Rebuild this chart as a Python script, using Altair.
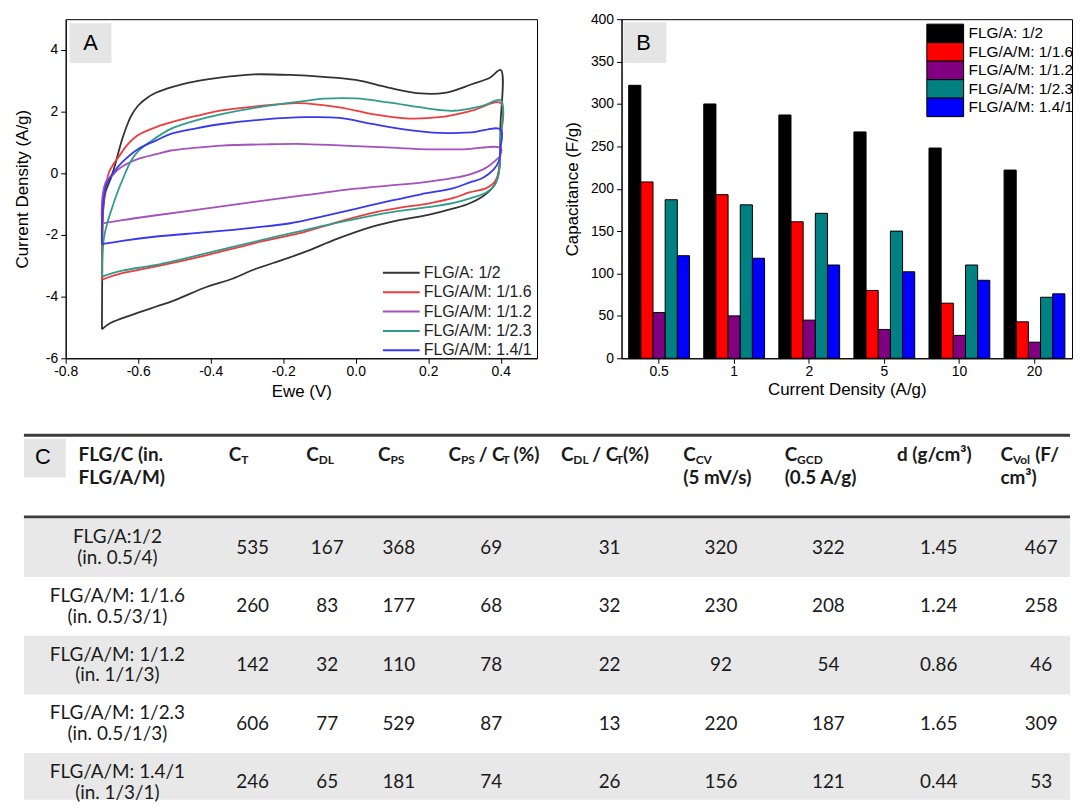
import altair as alt
import pandas as pd

# ---------------- data ----------------
SERIES = ["FLG/A: 1/2", "FLG/A/M: 1/1.6", "FLG/A/M: 1/1.2", "FLG/A/M: 1/2.3", "FLG/A/M: 1.4/1"]
A_COLORS = ["#333333", "#ee3b3b", "#a450bd", "#2f9c8c", "#3838f0"]
B_COLORS = ["#000000", "#ff0000", "#800080", "#008080", "#0000ff"]

# Panel A: CV loops (potential in V, current density in A/g), forward sweep then reverse sweep
CV_FLGA_E = [-0.700, -0.699, -0.697, -0.690, -0.675, -0.663, -0.654, -0.644, -0.632, -0.620, -0.600,
             -0.575, -0.550, -0.500, -0.460, -0.400, -0.340, -0.280, -0.180, -0.090, 0.000, 0.090,
             0.180, 0.250, 0.320, 0.370, 0.400,
             0.399, 0.397, 0.390, 0.375, 0.350, 0.313, 0.270, 0.200, 0.120, 0.046, -0.050, -0.140,
             -0.200, -0.280, -0.340, -0.410, -0.500, -0.550, -0.600, -0.644, -0.680, -0.700]
CV_FLGA_J = [-5.06, -3.00, -1.30, -0.60, -0.15, 0.30, 0.70, 1.11, 1.52, 1.85, 2.20,
             2.45, 2.62, 2.82, 2.94, 3.06, 3.15, 3.21, 3.19, 3.13, 3.03, 2.78,
             2.59, 2.62, 2.89, 3.10, 3.35,
             1.50, 0.30, -0.20, -0.50, -0.75, -0.98, -1.14, -1.35, -1.52, -1.73, -2.12, -2.55,
             -2.80, -3.12, -3.42, -3.68, -4.12, -4.32, -4.52, -4.70, -4.88, -5.06]

CV_116_E = [-0.700, -0.699, -0.696, -0.690, -0.680, -0.668, -0.653, -0.630, -0.600, -0.550, -0.510,
            -0.440, -0.370, -0.250, -0.160, -0.045, 0.046, 0.138, 0.230, 0.320, 0.400,
            0.399, 0.396, 0.385, 0.360, 0.313, 0.270, 0.200, 0.120, 0.046, -0.050, -0.140,
            -0.280, -0.410, -0.550, -0.644, -0.700]
CV_116_J = [-3.45, -2.00, -1.00, -0.45, 0.05, 0.30, 0.55, 0.92, 1.24, 1.50, 1.65,
            1.86, 2.04, 2.20, 2.28, 2.14, 1.92, 1.78, 1.82, 2.03, 2.28,
            1.00, 0.20, -0.25, -0.48, -0.62, -0.80, -0.98, -1.12, -1.28, -1.58, -1.90,
            -2.27, -2.65, -3.02, -3.24, -3.45]

CV_112_E = [-0.700, -0.700, -0.695, -0.688, -0.670, -0.653, -0.600, -0.550, -0.510, -0.440, -0.370,
            -0.250, -0.140, 0.000, 0.100, 0.200, 0.300, 0.400,
            0.397, 0.386, 0.365, 0.350, 0.313, 0.270, 0.180, 0.090, 0.000, -0.140, -0.280,
            -0.410, -0.550, -0.644, -0.700]
CV_112_J = [-1.63, -0.95, -0.50, -0.25, -0.06, 0.15, 0.47, 0.62, 0.74, 0.83, 0.90,
            0.94, 0.95, 0.88, 0.83, 0.78, 0.78, 0.82,
            0.55, 0.42, 0.22, 0.12, -0.04, -0.15, -0.30, -0.40, -0.50, -0.71, -0.93,
            -1.14, -1.36, -1.52, -1.63]

CV_123_E = [-0.700, -0.698, -0.693, -0.685, -0.670, -0.655, -0.640, -0.620, -0.600, -0.570, -0.510,
            -0.440, -0.370, -0.250, -0.140, -0.090, 0.000, 0.090, 0.200, 0.270, 0.350, 0.400,
            0.399, 0.396, 0.385, 0.360, 0.313, 0.270, 0.200, 0.120, 0.046, -0.050, -0.140,
            -0.280, -0.410, -0.550, -0.644, -0.700]
CV_123_J = [-3.35, -2.50, -2.00, -1.60, -1.05, -0.55, -0.12, 0.40, 0.72, 1.00, 1.44,
            1.72, 1.92, 2.18, 2.35, 2.42, 2.43, 2.30, 2.10, 2.03, 2.19, 2.37,
            1.00, 0.10, -0.35, -0.62, -0.82, -0.96, -1.10, -1.22, -1.37, -1.60, -1.84,
            -2.22, -2.59, -2.97, -3.16, -3.35]

CV_141_E = [-0.700, -0.700, -0.696, -0.690, -0.680, -0.670, -0.644, -0.600, -0.550, -0.510, -0.440,
            -0.370, -0.250, -0.140, -0.045, 0.046, 0.138, 0.230, 0.320, 0.400,
            0.399, 0.395, 0.380, 0.350, 0.313, 0.270, 0.180, 0.100, 0.000, -0.100, -0.180,
            -0.280, -0.410, -0.550, -0.644, -0.700]
CV_141_J = [-2.30, -1.60, -0.90, -0.45, -0.18, 0.00, 0.36, 0.79, 1.07, 1.28, 1.46,
            1.60, 1.75, 1.82, 1.80, 1.60, 1.42, 1.31, 1.33, 1.42,
            0.80, 0.40, 0.12, -0.15, -0.30, -0.48, -0.68, -0.88, -1.15, -1.42, -1.62,
            -1.76, -1.91, -2.05, -2.19, -2.30]

# Panel B: specific capacitance (F/g) vs current density (A/g)
DENSITY = ["0.5", "1", "2", "5", "10", "20"]
CAP_FLGA = [322, 300, 287, 267, 248, 222]
CAP_116 = [208, 193, 161, 80, 65, 43]
CAP_112 = [54, 50, 45, 34, 27, 19]
CAP_123 = [187, 181, 171, 150, 110, 72]
CAP_141 = [121, 118, 110, 102, 92, 76]

# Panel C: table
ROW_LINE1 = ["FLG/A:1/2", "FLG/A/M: 1/1.6", "FLG/A/M: 1/1.2", "FLG/A/M: 1/2.3", "FLG/A/M: 1.4/1"]
ROW_LINE2 = ["(in. 0.5/4)", "(in. 0.5/3/1)", "(in. 1/1/3)", "(in. 0.5/1/3)", "(in. 1/3/1)"]
C_T = [535, 260, 142, 606, 246]
C_DL = [167, 83, 32, 77, 65]
C_PS = [368, 177, 110, 529, 181]
PS_OVER_T = [69, 68, 78, 87, 74]
DL_OVER_T = [31, 32, 22, 13, 26]
C_CV = [320, 230, 92, 220, 156]
C_GCD = [322, 208, 54, 187, 121]
DENS = ["1.45", "1.24", "0.86", "1.65", "0.44"]
C_VOL = [467, 258, 46, 309, 53]
# header cells: list of lines, each a list of (text, is_subscript)
HEADERS = [
    [[("FLG/C (in.", False)], [("FLG/A/M)", False)]],
    [[("C", False), ("T", True)]],
    [[("C", False), ("DL", True)]],
    [[("C", False), ("PS", True)]],
    [[("C", False), ("PS", True), (" / C", False), ("T", True), (" (%)", False)]],
    [[("C", False), ("DL", True), (" / C", False), ("T", True), ("(%)", False)]],
    [[("C", False), ("CV", True)], [("(5 mV/s)", False)]],
    [[("C", False), ("GCD", True)], [("(0.5 A/g)", False)]],
    [[("d (g/cm³)", False)]],
    [[("C", False), ("Vol", True), (" (F/", False)], [("cm³)", False)]],
]

# ---------------- layout (pixels) ----------------
A_W, A_H = 474, 341
B_W, B_H = 453, 341
GAP_AB = 25            # gap between A's frame and B's axis title
GAP_TOP_TABLE = 33     # gap between the x-axis titles and the table block
T_X0 = 64              # page x of the table block origin (aligned with A plot origin)
T_W, T_H = 1010, 368
COL_CX = [116, 252, 327, 399, 492, 611, 723, 831, 942, 1045]   # column centres (page x)
COL_HX = [77, 228, 306, 378, 449, 562, 685, 787, 900, 1004]    # header left edges (page x)
TABLE_L = 22 - T_X0
HDR_Y = [21, 44]
RULE_Y = [1.5, 83.5]
ROW_TOP0, ROW_H = 85, 59
NAME_LH = 21
HF, SF, DF = 19, 12, 19

LEG_A = dict(x0=319, x1=356, xt=360, y0=255, y1=333)
LEG_B = dict(x0=307, x1=344, xt=349, y0=5, y1=98)

AX_FONT = "Liberation Sans, Arial, sans-serif"
T_FONT = "Lato, Open Sans, sans-serif"


def axis(**kw):
    base = dict(domainColor="black", tickColor="black", labelColor="black", titleColor="black",
                labelFont=AX_FONT, titleFont=AX_FONT, labelFontSize=14, titleFontSize=17,
                titleFontWeight="normal", tickSize=5, grid=False, labelFlush=False)
    base.update(kw)
    return alt.Axis(**base)


leg_df = pd.DataFrame({"series": SERIES, "i": list(range(len(SERIES)))})
leg_df["i2"] = leg_df["i"] + 1
leg_df["ic"] = leg_df["i"] + 0.5

# ---------------- panel A ----------------
recs = []
for name, es, js in zip(SERIES, [CV_FLGA_E, CV_116_E, CV_112_E, CV_123_E, CV_141_E],
                        [CV_FLGA_J, CV_116_J, CV_112_J, CV_123_J, CV_141_J]):
    for k, (e, j) in enumerate(zip(es, js)):
        recs.append({"series": name, "E": e, "J": j, "k": k})
cv_df = pd.DataFrame(recs)

colorA = alt.Color("series:N", scale=alt.Scale(domain=SERIES, range=A_COLORS), legend=None)
lines = alt.Chart(cv_df).mark_line(strokeWidth=1.8, interpolate="catmull-rom").encode(
    x=alt.X("E:Q", scale=alt.Scale(domain=[-0.8, 0.5], nice=False, zero=False),
            axis=axis(values=[-0.8, -0.6, -0.4, -0.2, 0.0, 0.2, 0.4], title="Ewe (V)",
                      labelExpr="replace(format(datum.value, '.1f'), '−', '-')",
                      labelPadding=1, titlePadding=5)),
    y=alt.Y("J:Q", scale=alt.Scale(domain=[-6, 5], nice=False, zero=False),
            axis=axis(values=[-6, -4, -2, 0, 2, 4], title="Current Density (A/g)",
                      labelExpr="replace(format(datum.value, 'd'), '−', '-')",
                      labelPadding=3, titlePadding=14)),
    color=colorA,
    order="k:Q",
)
legA_scale = alt.Scale(domain=[0, 4], range=[LEG_A["y0"], LEG_A["y1"]], nice=False, zero=False)
legA_line = alt.Chart(leg_df).mark_rule(strokeWidth=2).encode(
    x=alt.value(LEG_A["x0"]), x2=alt.value(LEG_A["x1"]),
    y=alt.Y("i:Q", scale=legA_scale, axis=None), color=colorA)
legA_text = alt.Chart(leg_df).mark_text(font=AX_FONT, fontSize=16, align="left", baseline="middle",
                                        color="#222222").encode(
    x=alt.value(LEG_A["xt"]), y=alt.Y("i:Q", scale=legA_scale, axis=None), text="series:N")

lab_df = pd.DataFrame({"t": ["A"]})
boxA = alt.Chart(lab_df).mark_rect(color="#e5e5e5").encode(
    x=alt.value(4), x2=alt.value(46), y=alt.value(4), y2=alt.value(44))
txtA = alt.Chart(lab_df).mark_text(font=AX_FONT, fontSize=22, color="black").encode(
    x=alt.value(25), y=alt.value(24), text="t:N")
chartA = alt.layer(boxA, txtA, lines, legA_line, legA_text).resolve_scale(y="independent").properties(
    width=A_W, height=A_H, view=alt.ViewBackground(stroke="black", strokeWidth=1))

# ---------------- panel B ----------------
brecs = []
for name, vals in zip(SERIES, [CAP_FLGA, CAP_116, CAP_112, CAP_123, CAP_141]):
    for d, v in zip(DENSITY, vals):
        brecs.append({"series": name, "density": d, "cap": v})
bar_df = pd.DataFrame(brecs)

colorB = alt.Color("series:N", scale=alt.Scale(domain=SERIES, range=B_COLORS), legend=None)
bars = alt.Chart(bar_df).mark_bar(stroke="black", strokeWidth=1).encode(
    x=alt.X("density:N", sort=DENSITY, scale=alt.Scale(paddingInner=0.19, paddingOuter=0.095),
            axis=axis(title="Current Density (A/g)", labelAngle=0, labelPadding=1, titlePadding=3)),
    xOffset=alt.XOffset("series:N", sort=SERIES),
    y=alt.Y("cap:Q", scale=alt.Scale(domain=[0, 400], nice=False),
            axis=axis(values=list(range(0, 401, 50)), title="Capacitance (F/g)",
                      labelPadding=3, titlePadding=9)),
    color=colorB,
)
legB_scale = alt.Scale(domain=[0, 5], range=[LEG_B["y0"], LEG_B["y1"]], nice=False, zero=False)
legB_box = alt.Chart(leg_df).mark_rect(stroke="black", strokeWidth=1).encode(
    x=alt.value(LEG_B["x0"]), x2=alt.value(LEG_B["x1"]),
    y=alt.Y("i:Q", scale=legB_scale, axis=None), y2="i2:Q", color=colorB)
legB_text = alt.Chart(leg_df).mark_text(font=AX_FONT, fontSize=15.5, align="left", baseline="middle",
                                        color="black").encode(
    x=alt.value(LEG_B["xt"]), y=alt.Y("ic:Q", scale=legB_scale, axis=None), text="series:N")

lab_b = pd.DataFrame({"t": ["B"]})
boxB = alt.Chart(lab_b).mark_rect(color="#e5e5e5").encode(
    x=alt.value(2), x2=alt.value(45), y=alt.value(3), y2=alt.value(44))
txtB = alt.Chart(lab_b).mark_text(font=AX_FONT, fontSize=22, color="black").encode(
    x=alt.value(22), y=alt.value(24), text="t:N")
chartB = alt.layer(boxB, txtB, bars, legB_box, legB_text).resolve_scale(y="independent").properties(
    width=B_W, height=B_H, view=alt.ViewBackground(stroke="black", strokeWidth=1))

# ---------------- panel C (table) ----------------
LATO_BOLD_W = {'C': .66, 'T': .58, 'D': .74, 'L': .50, 'P': .60, 'S': .53, 'V': .69, 'G': .73,
               'F': .55, 'A': .70, 'M': .88, 'o': .57, 'l': .26, 'd': .58, 'g': .52, 'c': .48,
               'm': .86, 'i': .26, 'n': .58, 's': .44, 'v': .53, 'e': .54, ' ': .22, '/': .38,
               '(': .31, ')': .31, '%': .80, '.': .24, ':': .26, '³': .38}


def tw(s, size):
    return sum(LATO_BOLD_W.get(ch, 0.58) for ch in s) * size


sx = alt.Scale(domain=[0, T_W], range=[0, T_W], nice=False, zero=False)
sy = alt.Scale(domain=[0, T_H], range=[0, T_H], nice=False, zero=False)


def XE(f):
    return alt.X(f, type="quantitative", scale=sx, axis=None)


def YE(f):
    return alt.Y(f, type="quantitative", scale=sy, axis=None)


bg_df = pd.DataFrame([{"x0": TABLE_L, "x1": T_W, "y0": ROW_TOP0 + ROW_H * r,
                       "y1": min(ROW_TOP0 + ROW_H * (r + 1), T_H)} for r in range(0, 5, 2)])
bg = alt.Chart(bg_df).mark_rect(color="#e8e8e8").encode(
    x=XE("x0"), x2="x1:Q", y=YE("y0"), y2="y1:Q")

rule_df = pd.DataFrame({"y": RULE_Y, "x0": [TABLE_L] * 2, "x1": [T_W] * 2})
rules = alt.Chart(rule_df).mark_rule(color="#3c3c3c", strokeWidth=3).encode(
    x=XE("x0"), x2="x1:Q", y=YE("y"))

lab_c = pd.DataFrame({"t": ["C"], "x0": [TABLE_L], "x1": [64 - T_X0], "y0": [5], "y1": [44],
                      "cx": [41 - T_X0], "cy": [23]})
boxC = alt.Chart(lab_c).mark_rect(color="#e5e5e5").encode(
    x=XE("x0"), x2="x1:Q", y=YE("y0"), y2="y1:Q")
txtC = alt.Chart(lab_c).mark_text(font=AX_FONT, fontSize=22, color="black").encode(
    x=XE("cx"), y=YE("cy"), text="t:N")

hrecs = []
for j, cell in enumerate(HEADERS):
    for li, segs in enumerate(cell):
        cur = COL_HX[j] - T_X0
        for text, sub in segs:
            size = SF if sub else HF
            lead = len(text) - len(text.lstrip(" "))
            cur += tw(" " * lead, size)
            body = text.lstrip(" ")
            hrecs.append({"t": body, "x": cur, "y": HDR_Y[li] + (5 if sub else 0), "sub": sub})
            cur += tw(body, size)
h_df = pd.DataFrame(hrecs)
hmain = alt.Chart(h_df[~h_df["sub"]]).mark_text(
    font=T_FONT, fontSize=HF, fontWeight="bold", align="left", baseline="middle", color="#1a1a1a"
).encode(x=XE("x"), y=YE("y"), text="t:N")
hsub = alt.Chart(h_df[h_df["sub"]]).mark_text(
    font=T_FONT, fontSize=SF, fontWeight="bold", align="left", baseline="middle", color="#1a1a1a"
).encode(x=XE("x"), y=YE("y"), text="t:N")

name_df = pd.DataFrame([{"t": ROW_LINE1[r] + "\n" + ROW_LINE2[r], "x": COL_CX[0] - T_X0,
                         "y": ROW_TOP0 + ROW_H * (r + 0.5)} for r in range(5)])
names = alt.Chart(name_df).mark_text(
    font=T_FONT, fontSize=DF, lineBreak="\n", lineHeight=NAME_LH, dy=-NAME_LH / 2,
    align="center", baseline="middle", color="#1a1a1a").encode(x=XE("x"), y=YE("y"), text="t:N")

cols = [C_T, C_DL, C_PS, PS_OVER_T, DL_OVER_T, C_CV, C_GCD, DENS, C_VOL]
vrecs = []
for c, col in enumerate(cols):
    for r, v in enumerate(col):
        vrecs.append({"t": str(v), "x": COL_CX[c + 1] - T_X0, "y": ROW_TOP0 + ROW_H * (r + 0.5)})
val_df = pd.DataFrame(vrecs)
vals = alt.Chart(val_df).mark_text(
    font=T_FONT, fontSize=DF, align="center", baseline="middle", color="#1a1a1a"
).encode(x=XE("x"), y=YE("y"), text="t:N")

table = alt.layer(bg, rules, boxC, txtC, hmain, hsub, names, vals).properties(
    width=T_W, height=T_H, view=alt.ViewBackground(stroke="transparent"))

# ---------------- assemble ----------------
top = alt.hconcat(chartA, chartB, spacing=GAP_AB).resolve_scale(
    x="independent", y="independent", color="independent")
chart = alt.vconcat(top, table, spacing=GAP_TOP_TABLE).resolve_scale(
    x="independent", y="independent", color="independent").properties(
    padding={"left": 5, "top": 1, "right": 0, "bottom": 0}
).configure_view(stroke="transparent").configure(background="white")

chart.save("out.html", embed_options={"renderer": "svg", "actions": False})
